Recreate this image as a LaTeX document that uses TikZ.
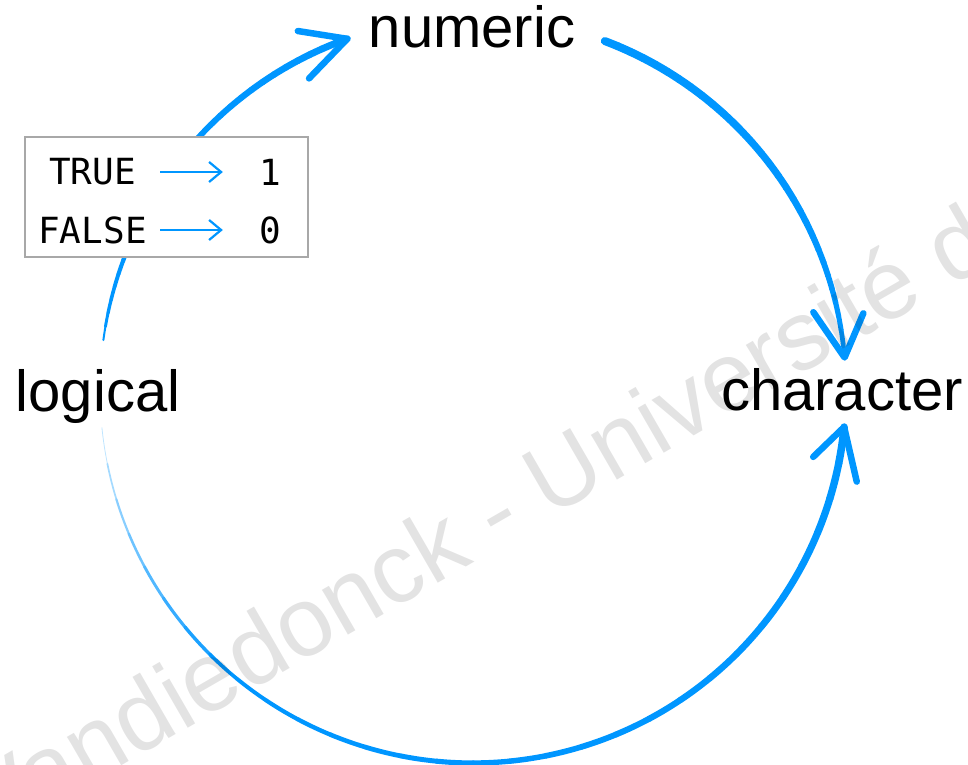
\documentclass[tikz,border=0pt]{standalone}
\usepackage{fontspec}
\setmainfont{Liberation Sans}
\newfontfamily\codefont{DejaVu Sans Mono}
\usepackage{xcolor}
\usepackage{tikz}
\usetikzlibrary{arrows.meta}

\definecolor{rblue}{RGB}{0,150,255}
\definecolor{boxgray}{RGB}{168,168,168}

% arc round (o): start angle, end angle, start width, end width, start tint, width exponent
\newcommand{\taperarc}[6]{%
  \foreach \k in {0,...,29}{%
    \pgfmathsetmacro{\angA}{#1+(#2-#1)*\k/30}%
    \pgfmathsetmacro{\angB}{#1+(#2-#1)*(\k+1)/30}%
    \pgfmathsetmacro{\wid}{#3+(#4-#3)*(\k/29)^#6}%
    \pgfmathsetmacro{\tnt}{min(100,#5+(100-#5)*\k/7)}%
    \draw[line width=\wid pt, rblue!\tnt!white, line cap=round] (o) ++(\angA:373) arc[start angle=\angA, end angle=\angB, radius=373];
  }}
% open arrow head: tip, angle 1, length 1, angle 2, length 2
\newcommand{\barb}[5]{%
  \draw[rblue, line width=6.5pt, line cap=round, line join=round] (#1) +(#2:#3) -- (#1) -- +(#4:#5);}

\begin{document}
\begin{tikzpicture}[x=1pt, y=1pt,
    typename/.style={font=\fontsize{58}{60}\selectfont, inner sep=0pt},
    mono/.style={font=\codefont\fontsize{36}{38}\selectfont, inner sep=0pt},
    tablebox/.style={draw=boxgray, line width=2pt, fill=white, minimum width=283pt, minimum height=120pt},
    conv/.style={rblue, line width=2.2pt, -{Straight Barb[length=12pt, width=20pt]}}]
    \clip (0,0) rectangle (968,764);
    \coordinate (o) at (473,374);

    \node[typename, anchor=base] (numeric) at (472,716) {numeric};
    \node[typename, anchor=base] (logical) at (98,353) {logical};
    \node[typename, anchor=base] (character) at (842,354) {character};

    \path (o) ++(109.7:373) coordinate (tipnum);
    \path (o) ++(5:373) coordinate (tipchar);
    \path (o) ++(354.3:373) coordinate (tipback);

    \taperarc{172.3}{109.7}{2}{7}{100}{0.5}
    \taperarc{69.3}{5}{8}{4.5}{100}{2}
    \taperarc{185.8}{354.3}{0.8}{7.5}{25}{0.6}

    \barb{tipnum}{171}{50}{226}{55}
    \barb{tipchar}{124.6}{55}{67}{48}
    \barb{tipback}{224}{43}{283}{56}

    \node[tablebox] (tbl) at (166.5,567) {};
    \node[mono, minimum width=135pt] (true) at (92.5,592) {TRUE};
    \node[mono, minimum width=135pt] (false) at (92.5,534) {FALSE};
    \node[mono, minimum width=94pt] (one) at (270,592) {1};
    \node[mono, minimum width=94pt] (zero) at (270,534) {0};
    \draw[conv] (true) -- (one);
    \draw[conv] (false) -- (zero);

    \node[rotate=30, anchor=base west, font=\fontsize{98}{100}\selectfont, text=black, opacity=0.11, inner sep=0pt] (mark) at (-10,-78) {Vandiedonck - Université d};
\end{tikzpicture}
\end{document}
